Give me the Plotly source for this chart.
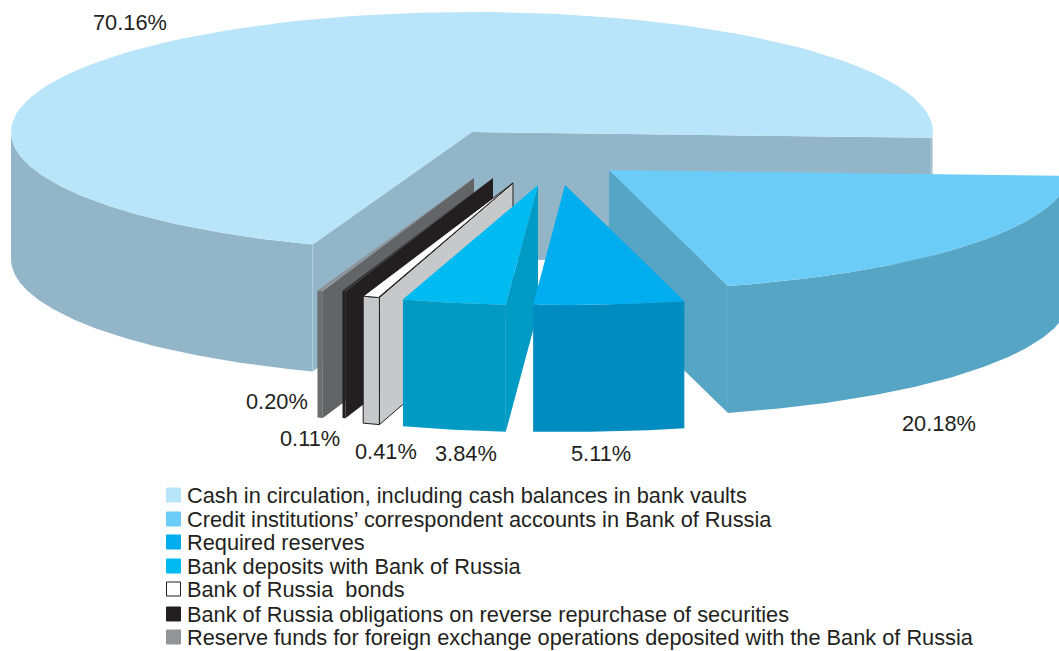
import numpy as np
import plotly.graph_objects as go

# ---------- data ----------
categories = [
    "Cash in circulation, including cash balances in bank vaults",
    "Credit institutions’ correspondent accounts in Bank of Russia",
    "Required reserves",
    "Bank deposits with Bank of Russia",
    "Bank of Russia  bonds",
    "Bank of Russia obligations on reverse repurchase of securities",
    "Reserve funds for foreign exchange operations deposited with the Bank of Russia",
]
values = [70.16, 20.18, 5.11, 3.84, 0.41, 0.11, 0.20]
value_labels = ["70.16%", "20.18%", "5.11%", "3.84%", "0.41%", "0.11%", "0.20%"]

# ---------- styling / layout (pixel space of the hidden axes) ----------
W, H = 1059, 651
FONT = "Liberation Sans"
TEXT = "#231F20"
RY, DEPTH = 120, 127
START = -2.8   # degrees at which the first clockwise sweep finishes
SEAM = "#AFCEDD"
# apex x, apex y, radius x, colours (top, wall, side), visible side, angle nudges
geom = [
    dict(ax=472, ay=132, rx=461, top="#B8E5FA", wall="#93B5C8", side="#93B5C8", edge=None),
    dict(ax=609, ay=170, rx=461, top="#6BCDF7", wall="#57A5C5", side="#57A5C5", edge="end", db=0.4),
    dict(ax=565, ay=185, rx=475, top="#00ADEF", wall="#008BC1", side=None, edge=None),
    dict(ax=538, ay=185, rx=445, top="#00BBF2", wall="#009AC3", side="#009BC4", edge="start", da=-0.3),
    dict(ax=513, ay=183, rx=450, top="#FFFFFF", wall="#C6C8CA", side="#C6C8CA", edge="start",
         line="#231F20", da=0.4, db=-0.3),
    dict(ax=493, ay=178, rx=450, top="#231F20", wall="#231F20", side="#231F20", edge="start"),
    dict(ax=474, ay=178, rx=452, top="#8E9093", wall="#6D6E70", side="#636466", edge="start"),
]
legend_colors = ["#B8E5FA", "#6BCDF7", "#00ADEF", "#00BBF2", "#FFFFFF", "#231F20", "#929497"]
legend_y = [495, 519, 542, 566, 589, 614, 637]
label_pos = [(130, 22), (939, 423), (601, 453), (466, 453), (386, 451), (310, 438), (277, 401)]

fig = go.Figure()


def poly(xs, ys, fill, line=None):
    fig.add_trace(go.Scatter(
        x=list(xs) + [xs[0]], y=list(ys) + [ys[0]], mode="lines", fill="toself",
        fillcolor=fill, line=dict(color=line or fill, width=1 if line else 0),
        hoverinfo="skip", showlegend=False))


def seam(x, y0, y1):
    fig.add_trace(go.Scatter(x=[x, x], y=[y0, y1], mode="lines",
                             line=dict(color=SEAM, width=1),
                             hoverinfo="skip", showlegend=False))


def pts(g, a, b, n=120):
    t = np.radians(np.linspace(a, b, n))
    return g["ax"] + g["rx"] * np.cos(t), g["ay"] - RY * np.sin(t)


# sweep limits from the values
sweeps = np.array(values) * 3.6
spans = []
cur = START
for i, s in enumerate(sweeps):
    if i == 0:
        spans.append((START + s, START))   # main slice: from its end, clockwise to START
    else:
        spans.append((cur + geom[i].get("da", 0), cur - s + geom[i].get("db", 0)))
        cur -= s


def draw_slice(i, front_range=None):
    g = geom[i]
    a, b = spans[i]
    line = g.get("line")
    # side face
    if g["edge"]:
        ang = a if g["edge"] == "start" else b
        px, py = pts(g, ang, ang, 1)
        poly([g["ax"], px[0], px[0], g["ax"]],
             [g["ay"], py[0], py[0] + DEPTH, g["ay"] + DEPTH], g["side"], line)
    # front wall
    fa, fb = front_range or (a, b)
    x, y = pts(g, fa, fb)
    poly(np.r_[x, x[::-1]], np.r_[y, y[::-1] + DEPTH], g["wall"], line)
    # top
    x, y = pts(g, a, b)
    poly(np.r_[g["ax"], x], np.r_[g["ay"], y], g["top"], line)


# main body: interior walls first
g0 = geom[0]
a0, b0 = spans[0]
ex, ey = pts(g0, b0, b0, 1)   # right end of the big slice
lx, ly = pts(g0, a0, a0, 1)   # front end of the big slice
poly([g0["ax"], ex[0], ex[0], g0["ax"]],
     [g0["ay"], ey[0], ey[0] + DEPTH, g0["ay"] + DEPTH], g0["side"])
poly([g0["ax"], lx[0], lx[0], g0["ax"]],
     [g0["ay"], ly[0], ly[0] + DEPTH, g0["ay"] + DEPTH], g0["side"])
draw_slice(0, front_range=(a0, 180))
seam(lx[0], ly[0], ly[0] + DEPTH)
seam(ex[0] - 1.5, ey[0], ey[0] + DEPTH)

draw_slice(1)
for i in (6, 5, 4, 3, 2):
    draw_slice(i)

# legend swatches
fig.add_trace(go.Scatter(
    x=[173.5] * len(categories), y=legend_y, mode="markers",
    marker=dict(symbol="square", size=14, color=legend_colors,
                line=dict(color=[c if c != "#FFFFFF" else "#231F20" for c in legend_colors], width=1)),
    hoverinfo="skip", showlegend=False))

annotations = []
for txt, (x, y) in zip(value_labels, label_pos):
    annotations.append(dict(x=x, y=y, text=txt, showarrow=False, xanchor="center", yanchor="middle",
                            font=dict(family=FONT, size=21.8, color=TEXT)))
for txt, y in zip(categories, legend_y):
    annotations.append(dict(x=184.5, y=y, text=txt, showarrow=False, xanchor="left", yanchor="middle",
                            font=dict(family=FONT, size=21.75, color=TEXT)))

fig.update_layout(
    width=W, height=H, margin=dict(l=0, r=0, t=0, b=0),
    paper_bgcolor="white", plot_bgcolor="white",
    xaxis=dict(range=[0, W], visible=False, fixedrange=True),
    yaxis=dict(range=[H, 0], visible=False, fixedrange=True),
    annotations=annotations, showlegend=False,
)
fig.write_html("out.html", config=dict(displayModeBar=False),
               post_script="document.body.style.margin='0';document.body.style.overflow='hidden';")
